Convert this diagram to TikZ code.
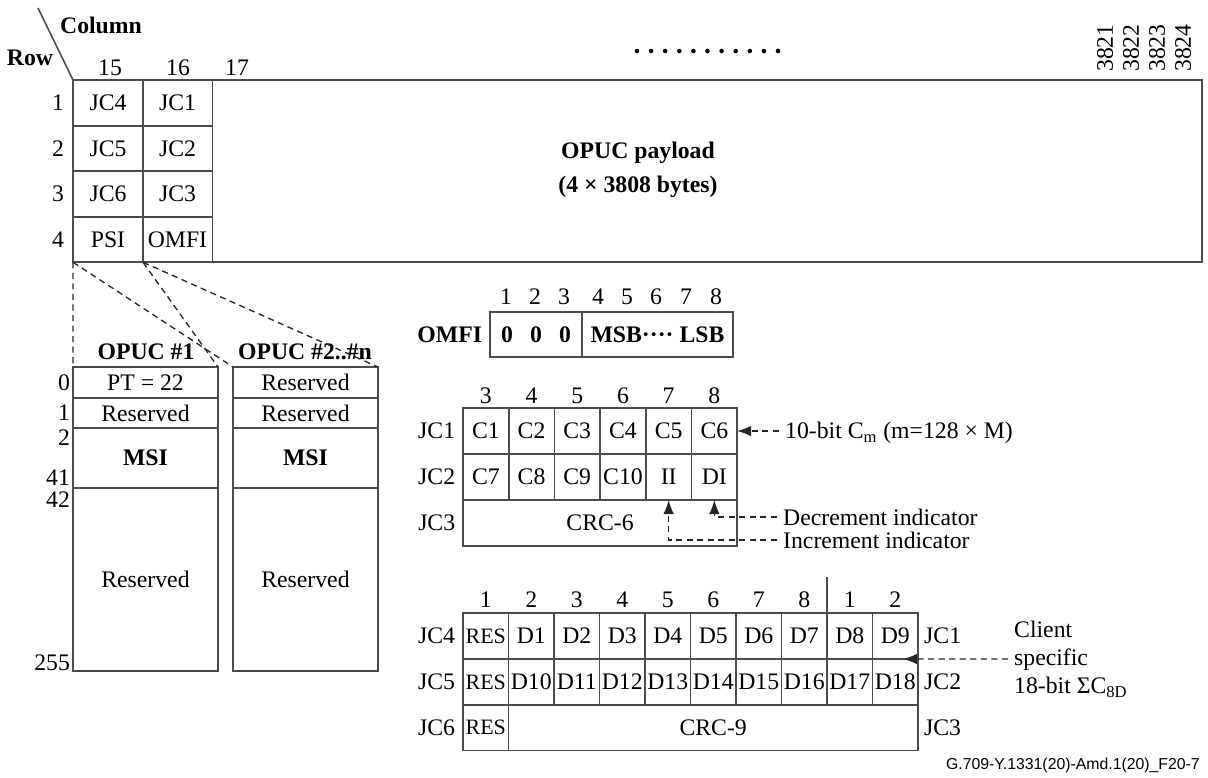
\documentclass[tikz,border=0pt]{standalone}
\usepackage{fontspec}
\setmainfont{Liberation Serif}
\newfontfamily\tagfont{Liberation Sans}
\usetikzlibrary{arrows.meta,positioning,calc}

\tikzset{
  gridline/.style={draw=black!70, line width=0.9pt},
  cell/.style={gridline, inner sep=0pt, outer sep=0pt},
  maincell/.style={cell, minimum width=1.4cm, minimum height=0.91cm},
  jccell/.style={cell, minimum width=0.91cm, minimum height=0.92cm},
  opucell/.style={cell, minimum width=2.9cm},
  rowlbl/.style={anchor=east, inner sep=1pt},
  hd/.style={font=\fontsize{13.5}{16}\selectfont\bfseries},
  smalltxt/.style={font=\fontsize{12.5}{14}\selectfont},
  hint/.style={dash pattern=on 3.5pt off 2.5pt, line width=0.75pt, black!85},
  ptr/.style={hint, -{Latex[length=8pt,width=6pt]}},
}

\begin{document}
\begin{tikzpicture}[x=0.02cm, y=-0.02cm, font=\fontsize{13.5}{16}\selectfont]
\useasboundingbox (0,0) rectangle (1208,778);

% frame header
\coordinate (corner) at (73,80);
\node[hd] (colhdr) at (101,25) {Column};
\node[hd] (rowhdr) at (30,58) {Row};
\draw[gridline] (38,8) -- (corner);
\foreach \x/\t in {110/15,178/16,237/17}
  \node (col\t) at (\x,68) {\t};
\foreach \x/\t in {1105/3821,1131/3822,1157/3823,1183/3824}
  \node[rotate=90] (col\t) at (\x,48) {\t};
\foreach \i in {0,...,10}
  \fill (637+14.1*\i,51) circle (1.3pt);

% OPUC frame, rows 1-4
\draw[gridline] (corner) rectangle (1202,262);
\foreach \y/\r/\a/\b in {103/1/JC4/JC1, 148.5/2/JC5/JC2, 194/3/JC6/JC3, 239.5/4/PSI/OMFI} {
  \node[rowlbl] (row\r) at (66,\y) {\r};
  \node[maincell] (fa\r) at (108,\y) {\a};
  \node[maincell] (fb\r) at (177.5,\y) {\b};
}
\node[hd, align=center] (payload) at (638,170) {OPUC payload\\[3pt](4 × 3808 bytes)};

% PSI expanded
\node[hd] (op1hdr) at (146,352) {OPUC \#1};
\node[hd] (op2hdr) at (305,352) {OPUC \#2..\#n};
\foreach \k/\x/\first in {1/145.5/{PT = 22}, 2/305.5/Reserved} {
  \node[opucell, minimum height=0.62cm] (op\k-a) at (\x,382.5) {\first};
  \node[opucell, minimum height=0.60cm, below=0pt of op\k-a] (op\k-b) {Reserved};
  \node[opucell, minimum height=1.2cm, below=0pt of op\k-b, hd] (op\k-c) {MSI};
  \node[opucell, minimum height=3.66cm, below=0pt of op\k-c] (op\k-d) {Reserved};
}
\foreach \y/\t in {383/0,413/1,438/2,478/41,500/42,663/255}
  \node[rowlbl] (oprow\t) at (72,\y) {\t};
\draw[hint] (fa4.south west) -- (op1-a.north west);
\draw[hint] (fa4.south west) -- (op2-a.north west);
\draw[hint] (fa4.south east) -- (op1-a.north east);
\draw[hint] (fa4.south east) -- (op2-a.north east);

% OMFI
\foreach \i/\x in {1/506,2/535,3/564,4/598,5/627,6/656,7/686,8/716}
  \node (ob\i) at (\x,297) {\i};
\node[cell, minimum width=1.84cm, minimum height=0.9cm, hd] (omfia) at (536,334.5) {0\hspace{0.72em}0\hspace{0.72em}0};
\node[cell, minimum width=3.02cm, minimum height=0.9cm, hd, right=0pt of omfia] (omfib) {MSB····~LSB};
\node[hd, left=1pt of omfia] (omfilbl) {OMFI};

% JC1 to JC3
\foreach \t [count=\n from 0] in {3,...,8}
  \node (jh\t) at (485.85+45.7*\n,396) {\t};
\foreach \t [count=\n from 0] in {C1,C2,C3,C4,C5,C6}
  \node[jccell] (\t) at (485.85+45.7*\n,431) {\t};
\foreach \t [count=\n from 0] in {C7,C8,C9,C10,II,DI}
  \node[jccell] (\t) at (485.85+45.7*\n,477) {\t};
\node[cell, minimum width=5.48cm, minimum height=0.92cm] (crcsix) at (600.1,523) {CRC-6};
\node[left=1pt of C1] (jcone) {JC1};
\node[left=1pt of C7] (jctwo) {JC2};
\node[left=1pt of crcsix.west] (jcthree) {JC3};

\node[anchor=west] (cmlbl) at (779,433) {10-bit C\textsubscript{m} (m=128 × M)};
\node[anchor=west] (declbl) at (777,517) {Decrement indicator};
\node[anchor=west] (inclbl) at (777,540) {Increment indicator};
\draw[ptr] (cmlbl.west |- C6.east) -- (C6.east);
\draw[ptr] (declbl.west) -| (DI.south);
\draw[ptr] (inclbl.west) -| (II.south);

% JC4 to JC6
\foreach \t [count=\n from 0] in {1,2,3,4,5,6,7,8,1,2}
  \node (kh\n) at (485.75+45.5*\n,600) {\t};
\node[jccell, smalltxt] (res4) at (485.75,636) {RES};
\foreach \n in {1,...,9}
  \node[jccell] (D\n) at (485.75+45.5*\n,636) {D\n};
\node[jccell, smalltxt] (res5) at (485.75,682) {RES};
\foreach \n in {10,...,18}
  \node[jccell] (D\n) at (485.75+45.5*\n-409.5,682) {D\n};
\node[jccell, smalltxt] (res6) at (485.75,727.5) {RES};
\node[cell, minimum width=8.19cm, minimum height=0.92cm, right=0pt of res6] (crcnine) {CRC-9};
\draw[gridline] (D7.north east) -- ++(0,-36);
\node[left=1pt of res4] (jcfour) {JC4};
\node[left=1pt of res5] (jcfive) {JC5};
\node[left=1pt of res6] (jcsix) {JC6};
\node[right=0pt of D9] (jconeb) {JC1};
\node[right=0pt of D18] (jctwob) {JC2};
\node[right=0pt of crcnine] (jcthreeb) {JC3};

\node[anchor=west, align=left] (clientlbl) at (1008,659) {Client\\specific\\18-bit ΣC\textsubscript{8D}};
\draw[ptr] (clientlbl.west) -- ([xshift=-0.3cm]D9.south east);

\node[anchor=east, font=\tagfont\fontsize{9}{11}\selectfont] (figtag) at (1206,765) {G.709-Y.1331(20)-Amd.1(20)\_F20-7};
\end{tikzpicture}
\end{document}
